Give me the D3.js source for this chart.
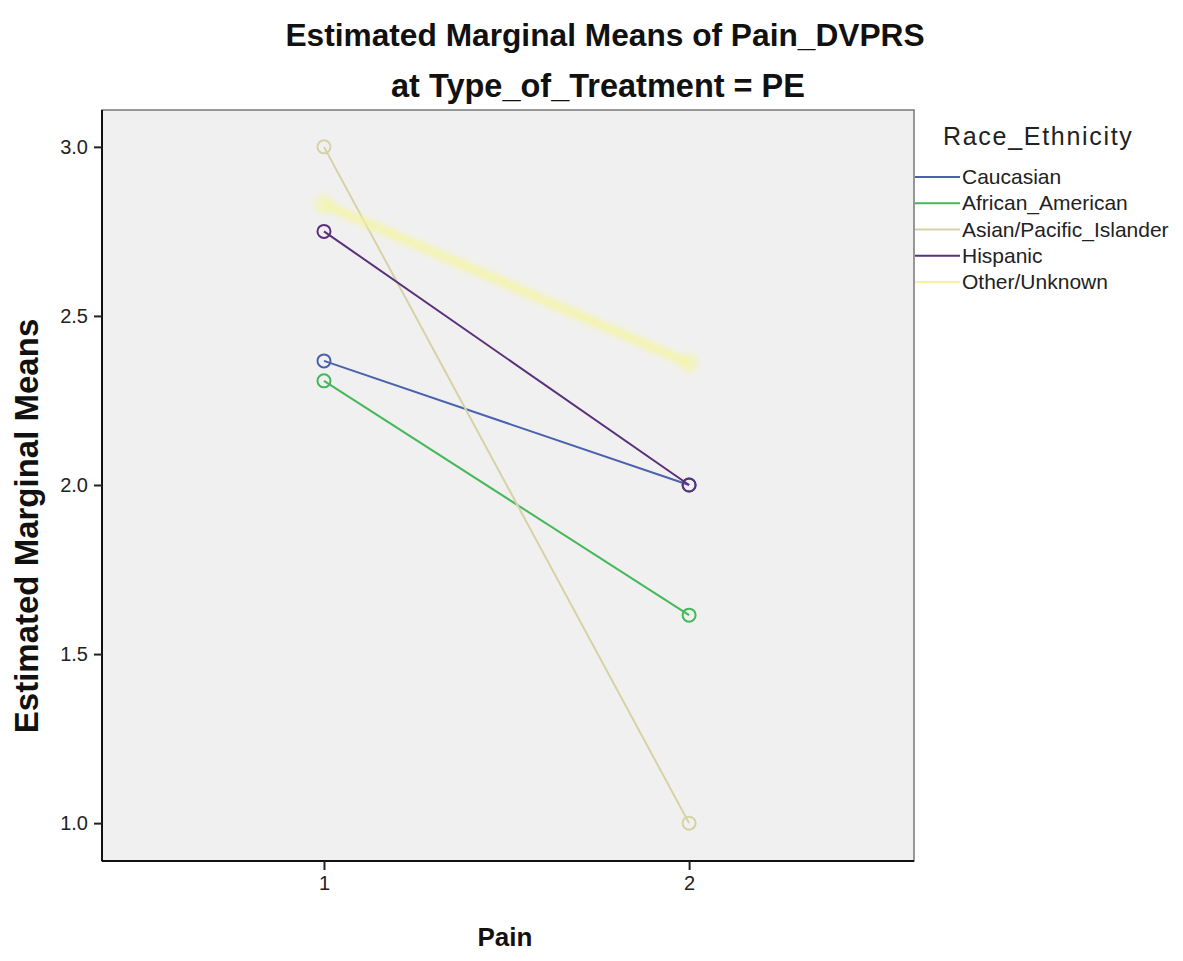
<!DOCTYPE html>
<html>
<head>
<meta charset="utf-8">
<script src="https://cdn.jsdelivr.net/npm/d3@7"></script>
<style>
  html, body { margin: 0; padding: 0; background: #ffffff; }
  svg { display: block; font-family: "Liberation Sans", Arial, sans-serif; }
</style>
</head>
<body>
<svg id="chart" width="1183" height="961"></svg>
<script>
// Estimated marginal means of Pain_DVPRS by Race_Ethnicity (Type_of_Treatment = PE)
const painLevels = [1, 2];
const groups = ["Caucasian", "African_American", "Asian/Pacific_Islander", "Hispanic", "Other/Unknown"];
const caucasian = [2.367, 2.0];
const africanAmerican = [2.308, 1.615];
const asianPacificIslander = [3.0, 1.0];
const hispanic = [2.75, 2.0];
const otherUnknown = [2.83, 2.36];
const yTicks = [1.0, 1.5, 2.0, 2.5, 3.0];
const groupColors = ["#4a62ad", "#45b85a", "#d6d2a6", "#5a3079", "#f5f59a"];

const seriesValues = [caucasian, africanAmerican, asianPacificIslander, hispanic, otherUnknown];
const series = groups.map((name, i) => ({
  name,
  color: groupColors[i],
  points: painLevels.map((p, j) => ({ pain: p, mean: seriesValues[i][j] }))
}));

const svg = d3.select("#chart");
const plot = { left: 102, top: 110, right: 914, bottom: 861 };

const x = d3.scaleLinear().domain([0.392, 2.616]).range([plot.left, plot.right]);
const y = d3.scaleLinear().domain([0.888, 3.109]).range([plot.bottom, plot.top]);

const defs = svg.append("defs");
defs.append("filter").attr("id", "soft")
  .attr("x", "-20%").attr("y", "-20%").attr("width", "140%").attr("height", "140%")
  .append("feGaussianBlur").attr("stdDeviation", 3);

// Titles
svg.append("text").attr("x", 605).attr("y", 46).attr("text-anchor", "middle")
  .attr("font-size", 31.7).attr("font-weight", "bold").attr("fill", "#111")
  .text("Estimated Marginal Means of Pain_DVPRS");
svg.append("text").attr("x", 598).attr("y", 97).attr("text-anchor", "middle")
  .attr("font-size", 32.5).attr("font-weight", "bold").attr("fill", "#111")
  .text("at Type_of_Treatment = PE");

// Plot background and frame
svg.append("rect")
  .attr("x", plot.left).attr("y", plot.top)
  .attr("width", plot.right - plot.left).attr("height", plot.bottom - plot.top)
  .attr("fill", "#f0f0f0").attr("stroke", "#777").attr("stroke-width", 1.5);

// Axes
const yAxis = d3.axisLeft(y).tickValues(yTicks).tickFormat(d3.format(".1f")).tickSize(8).tickPadding(6);
const xAxis = d3.axisBottom(x).tickValues(painLevels).tickFormat(d3.format("d")).tickSize(9).tickPadding(6);

const gy = svg.append("g").attr("transform", `translate(${plot.left},0)`).call(yAxis);
const gx = svg.append("g").attr("transform", `translate(0,${plot.bottom})`).call(xAxis);
[gx, gy].forEach(g => {
  g.select(".domain").attr("stroke", "#111").attr("stroke-width", 2);
  g.selectAll(".tick line").attr("stroke", "#222").attr("stroke-width", 2);
  g.selectAll(".tick text").attr("font-size", 20).attr("fill", "#222")
    .attr("font-family", "'Liberation Sans', Arial, sans-serif");
});
// keep the domain paths straight (no outer ticks)
gy.select(".domain").attr("d", `M0,${plot.top}V${plot.bottom}`);
gx.select(".domain").attr("d", `M${plot.left},0H${plot.right}`);

// Axis titles
svg.append("text").attr("x", 505).attr("y", 946).attr("text-anchor", "middle")
  .attr("font-size", 26).attr("font-weight", "bold").attr("fill", "#111").text("Pain");
svg.append("text").attr("transform", "translate(38,526) rotate(-90)").attr("text-anchor", "middle")
  .attr("font-size", 33).attr("font-weight", "bold").attr("fill", "#111").text("Estimated Marginal Means");

// Lines and markers
const line = d3.line().x(d => x(d.pain)).y(d => y(d.mean));
const marks = svg.append("g");
series.forEach(s => {
  const g = marks.append("g");
  const faint = s.name === "Other/Unknown";
  if (faint) g.attr("filter", "url(#soft)").attr("opacity", 0.85);
  g.append("path").datum(s.points)
    .attr("d", line).attr("fill", "none")
    .attr("stroke", s.color).attr("stroke-width", faint ? 8 : 2);
  g.selectAll("circle").data(s.points).join("circle")
    .attr("cx", d => x(d.pain)).attr("cy", d => y(d.mean)).attr("r", 6.5)
    .attr("fill", "none").attr("stroke", s.color).attr("stroke-width", faint ? 4 : 2);
});

// Legend
const legend = svg.append("g");
legend.append("text").attr("x", 943).attr("y", 145).attr("font-size", 25)
  .attr("letter-spacing", 1.7).attr("fill", "#222").text("Race_Ethnicity");
const legendY = d3.scalePoint().domain(groups).range([177, 282]);
groups.forEach((name, i) => {
  legend.append("line")
    .attr("x1", 915).attr("x2", 960)
    .attr("y1", legendY(name)).attr("y2", legendY(name))
    .attr("stroke", groupColors[i]).attr("stroke-width", 2);
  legend.append("text").attr("x", 962).attr("y", legendY(name) + 7)
    .attr("font-size", 21).attr("fill", "#222").text(name);
});
</script>
</body>
</html>
